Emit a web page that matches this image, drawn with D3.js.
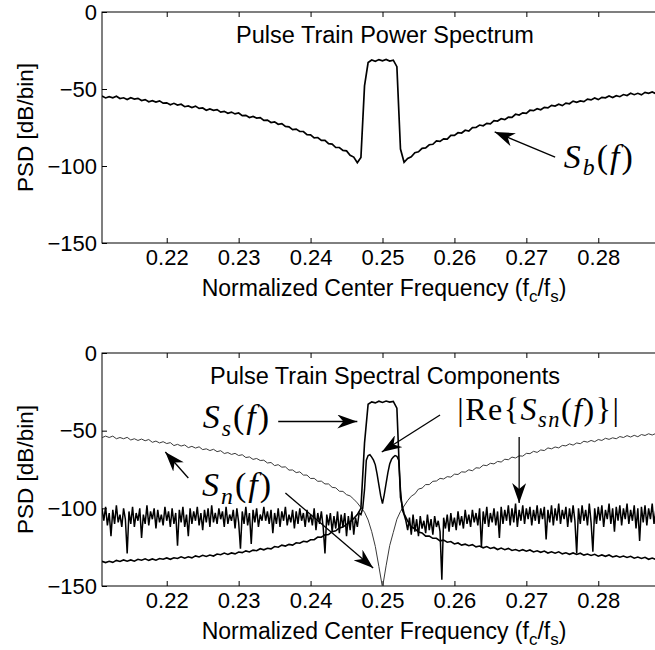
<!DOCTYPE html>
<html>
<head>
<meta charset="utf-8">
<script src="https://cdn.jsdelivr.net/npm/d3@7"></script>
<style>
  body { margin: 0; background: #fff; }
  svg { display: block; font-family: "Liberation Sans", Arial, sans-serif; }
</style>
</head>
<body>
<script>
// axes
const freqDomain = [0.211, 0.289];
const freqTicks = [0.22, 0.23, 0.24, 0.25, 0.26, 0.27, 0.28];
const dbTicks = [-150, -100, -50, 0];

const gridStart = 0.211, gridStep = 0.0005;

// top panel: S_b(f)
const sbPower = [
  -54.6, -55.8, -55.0, -55.7, -54.7, -56.2, -55.7, -56.9, -55.7, -56.6,
  -56.1, -57.5, -56.9, -58.3, -57.6, -58.5, -57.7, -59.2, -59.0, -60.2,
  -59.3, -60.4, -59.9, -61.5, -61.0, -62.0, -61.1, -62.6, -62.3, -63.8,
  -62.9, -63.8, -63.4, -65.0, -64.5, -65.8, -65.0, -66.2, -65.6, -67.3,
  -67.1, -68.5, -67.8, -68.9, -68.6, -70.4, -70.2, -71.8, -71.3, -72.9,
  -72.5, -74.3, -74.6, -76.4, -76.0, -77.5, -77.6, -79.7, -79.8, -81.7,
  -81.5, -83.4, -83.3, -85.5, -85.8, -88.0, -88.0, -89.9, -90.2, -93.0,
  -94.2, -97.8, -94.5, -48.0, -32.8, -31.2, -32.0, -30.9, -31.7, -30.8,
  -31.9, -31.3, -35.5, -89.0, -97.6, -95.1, -94.0, -91.4, -90.8, -88.5,
  -88.2, -86.2, -85.9, -83.7, -84.0, -82.4, -82.5, -80.1, -80.1, -78.4,
  -78.6, -76.8, -77.3, -75.1, -75.0, -73.4, -73.9, -72.3, -72.7, -70.6,
  -70.8, -69.3, -69.9, -68.3, -68.4, -66.4, -66.9, -65.5, -65.8, -63.8,
  -64.1, -62.8, -63.5, -61.9, -62.3, -60.6, -61.1, -59.9, -60.8, -59.2,
  -59.6, -57.9, -58.7, -57.7, -58.2, -56.6, -57.1, -55.8, -56.9, -55.4,
  -55.7, -54.5, -55.5, -54.3, -55.0, -53.6, -54.2, -52.8, -53.7, -52.8,
  -53.8, -52.2, -52.8, -51.9, -53.0, -51.8, -52.4
];

// bottom panel: S_n(f), thin grey curve with the notch
const snNoise = [
  -54.5, -53.5, -54.4, -53.5, -55.2, -54.4, -55.2, -54.3, -56.0, -55.2,
  -56.3, -55.4, -56.5, -55.7, -57.5, -56.7, -57.9, -57.1, -58.3, -57.7,
  -59.6, -58.8, -59.9, -59.2, -60.9, -60.1, -61.2, -60.4, -62.2, -61.7,
  -62.8, -62.0, -63.5, -62.9, -64.7, -64.1, -65.3, -64.6, -66.0, -65.5,
  -67.3, -66.9, -68.5, -67.9, -69.2, -69.0, -70.8, -70.5, -72.5, -71.9,
  -73.5, -73.3, -75.4, -75.3, -77.0, -76.5, -78.6, -78.6, -80.8, -80.7,
  -82.6, -82.5, -84.3, -84.3, -86.5, -86.8, -89.0, -89.1, -91.2, -92.0,
  -94.1, -96.5, -99.5, -102.5, -107.5, -115.0, -124.5, -137.5, -151.0, -137.0,
  -124.0, -115.5, -107.0, -102.0, -98.5, -95.0, -92.2, -90.7, -87.6, -87.0,
  -84.7, -84.7, -82.6, -82.4, -80.7, -81.1, -79.6, -79.9, -78.0, -78.2,
  -76.5, -76.7, -75.2, -75.8, -73.9, -74.1, -72.2, -72.5, -71.0, -71.4,
  -69.8, -70.2, -68.4, -68.7, -67.0, -67.6, -66.2, -66.4, -64.6, -64.8,
  -63.3, -64.0, -62.4, -62.8, -61.1, -61.7, -60.5, -61.1, -59.5, -59.8,
  -58.5, -59.3, -57.9, -58.4, -56.8, -57.4, -56.3, -57.1, -55.7, -56.3,
  -54.9, -55.6, -54.6, -55.2, -53.8, -54.4, -53.2, -54.1, -53.0, -53.9,
  -52.5, -53.1, -52.0, -52.8, -51.8, -52.6, -51.7
];

// bottom panel: S_s(f), bold curve with the flat top
const ssSignal = [
  -134.1, -134.9, -134.1, -134.8, -133.5, -134.2, -133.2, -134.0, -133.2, -134.0,
  -132.8, -133.4, -132.5, -133.5, -132.6, -133.4, -132.3, -132.8, -131.9, -132.8,
  -131.8, -132.3, -131.2, -132.1, -131.2, -131.9, -130.6, -131.3, -130.2, -131.0,
  -130.1, -130.7, -129.4, -129.9, -128.8, -129.7, -128.7, -129.3, -128.1, -128.5,
  -127.4, -128.1, -126.9, -127.3, -126.0, -126.7, -125.7, -126.1, -124.6, -125.0,
  -123.7, -124.3, -123.2, -123.7, -122.2, -122.5, -121.2, -121.6, -120.2, -120.2,
  -118.5, -118.6, -117.1, -116.9, -115.0, -114.5, -112.6, -112.1, -110.3, -108.7,
  -106.5, -104.0, -100.0, -58.0, -33.0, -31.5, -32.1, -31.0, -31.8, -30.9,
  -31.6, -31.2, -35.5, -93.0, -103.5, -108.2, -111.9, -113.1, -115.3, -115.8,
  -117.9, -117.8, -119.3, -119.3, -120.9, -120.5, -121.8, -121.4, -122.9, -122.3,
  -123.7, -123.1, -124.1, -123.4, -124.8, -124.3, -125.4, -124.6, -125.8, -125.2,
  -126.5, -125.6, -126.6, -125.8, -127.1, -126.5, -127.4, -126.6, -127.6, -126.8,
  -128.1, -127.3, -128.3, -127.5, -128.8, -128.0, -128.9, -128.0, -129.3, -128.6,
  -129.6, -128.7, -129.7, -128.9, -130.1, -129.4, -130.3, -129.6, -130.8, -130.0,
  -130.9, -130.0, -131.3, -130.6, -131.5, -130.7, -131.6, -130.9, -132.1, -131.4,
  -132.3, -131.5, -132.8, -132.0, -132.9, -132.1, -133.1
];

// bottom panel: |Re{S_sn(f)}|, sampled every 0.00025 starting at 0.211
const crossStart = 0.211, crossStep = 0.00025;
const reCross = [
  -100, -108, -99, -111, -103, -118, -101, -110, -98, -109, -104, -112,
  -100, -107, -129, -102, -110, -99, -112, -103, -108, -100, -119, -104,
  -110, -98, -111, -102, -107, -100, -113, -101, -109, -104, -111, -99,
  -108, -102, -112, -100, -110, -103, -124, -101, -109, -99, -112, -104,
  -118, -100, -110, -102, -108, -99, -111, -103, -114, -101, -109, -100,
  -112, -98, -109, -103, -110, -100, -107, -102, -112, -99, -110, -104,
  -108, -101, -113, -100, -109, -126, -102, -110, -99, -111, -103, -123,
  -101, -109, -100, -112, -104, -108, -99, -108, -102, -110, -101, -116,
  -103, -110, -100, -112, -102, -108, -99, -111, -104, -109, -101, -113,
  -102, -110, -100, -108, -103, -112, -101, -109, -104, -111, -100, -114,
  -103, -110, -102, -112, -129, -104, -111, -103, -115, -105, -113, -102,
  -116, -104, -112, -103, -118, -105, -114, -102, -117, -106, -112, -103,
  // inside the pulse band
  -104, -100, -88, -69, -66, -65.5, -67, -69, -72, -78, -85, -92, -97,
  -91, -84, -77, -71.5, -68.5, -67, -66, -66.5, -69, -88, -101, -104,
  // right of the pulse band
  -108, -114, -106, -117, -104, -115, -107, -118, -105, -113, -108, -116,
  -104, -114, -107, -117, -105, -112, -108, -115, -146, -106, -113, -104,
  -115, -103, -112, -106, -114, -102, -111, -105, -113, -101, -110, -104,
  -112, -101, -109, -103, -111, -100, -125, -102, -110, -99, -112, -103,
  -109, -100, -111, -102, -119, -99, -110, -101, -108, -98, -111, -100,
  -109, -97, -112, -101, -108, -98, -110, -100, -107, -99, -111, -101,
  -108, -98, -110, -100, -107, -99, -120, -101, -109, -98, -111, -100,
  -108, -97, -110, -101, -107, -99, -112, -100, -109, -98, -108, -129,
  -100, -110, -98, -108, -101, -111, -97, -109, -128, -100, -110, -99,
  -108, -98, -112, -101, -107, -97, -110, -100, -115, -99, -108, -98,
  -111, -100, -107, -97, -110, -101, -108, -98, -113, -100, -121, -99,
  -109, -98, -111, -100, -107, -97, -110, -101, -108, -99, -111, -100
];

const width = 655;
const height = 650;

const svg = d3.select('body')
  .append('svg')
  .attr('width', width)
  .attr('height', height);

// arrow head like the MATLAB annotation arrows
svg.append('defs')
  .append('marker')
  .attr('id', 'head')
  .attr('viewBox', '0 -7 20 14')
  .attr('refX', 20)
  .attr('refY', 0)
  .attr('markerWidth', 20)
  .attr('markerHeight', 14)
  .attr('markerUnits', 'userSpaceOnUse')
  .attr('orient', 'auto')
  .append('path')
  .attr('d', 'M0,-7L20,0L0,7L6,0Z')
  .attr('fill', '#000');

const x = d3.scaleLinear().domain(freqDomain).range([102, 663]);

const toPoints = (vals, start, step) => vals.map((v, i) => [start + i * step, v]);

// one panel: box, ticks, labels, title; returns its y scale and plot group
function panel(id, top, bottom, title) {
  const y = d3.scaleLinear().domain([-150, 0]).range([bottom, top]);
  const g = svg.append('g');

  g.append('clipPath').attr('id', id)
    .append('rect')
    .attr('x', x.range()[0]).attr('y', top)
    .attr('width', x.range()[1] - x.range()[0]).attr('height', bottom - top);

  // bottom axis with inward ticks
  g.append('g')
    .attr('transform', `translate(0,${bottom})`)
    .call(d3.axisBottom(x).tickValues(freqTicks).tickFormat(d3.format('.2f'))
      .tickSize(-5).tickPadding(6))
    .call(a => a.select('.domain').remove());

  // top border ticks
  g.append('g')
    .attr('transform', `translate(0,${top})`)
    .call(d3.axisTop(x).tickValues(freqTicks).tickFormat('').tickSize(-5))
    .call(a => a.select('.domain').remove());

  g.append('g')
    .attr('transform', `translate(${x.range()[0]},0)`)
    .call(d3.axisLeft(y).tickValues(dbTicks).tickSize(-5).tickPadding(5))
    .call(a => a.select('.domain').remove());

  g.selectAll('.tick line').attr('stroke', '#000');
  g.selectAll('.tick text').attr('font-size', 22).attr('fill', '#000')
    .attr('font-family', '"Liberation Sans", Arial, sans-serif');

  g.append('rect')
    .attr('x', x.range()[0]).attr('y', top)
    .attr('width', x.range()[1] - x.range()[0]).attr('height', bottom - top)
    .attr('fill', 'none').attr('stroke', '#000').attr('stroke-width', 1);

  g.append('text')
    .attr('x', 385).attr('y', top + 31)
    .attr('text-anchor', 'middle').attr('font-size', 23.5)
    .text(title);

  g.append('text')
    .attr('transform', `translate(33,${(top + bottom) / 2}) rotate(-90)`)
    .attr('text-anchor', 'middle').attr('font-size', 22.5)
    .text('PSD [dB/bin]');

  const xl = g.append('text')
    .attr('x', 384).attr('y', bottom + 53)
    .attr('text-anchor', 'middle').attr('font-size', 23);
  xl.append('tspan').text('Normalized Center Frequency (f');
  xl.append('tspan').attr('dy', 6).attr('font-size', 17).text('c');
  xl.append('tspan').attr('dy', -6).text('/f');
  xl.append('tspan').attr('dy', 6).attr('font-size', 17).text('s');
  xl.append('tspan').attr('dy', -6).text(')');

  const plot = g.append('g').attr('clip-path', `url(#${id})`);
  return { y, g, plot };
}

// math text: parts of [text, italic, subscript]
function mathText(g, px, py, parts, size, spacing) {
  const t = g.append('text')
    .attr('x', px).attr('y', py)
    .attr('font-family', '"Liberation Serif", "Times New Roman", serif')
    .attr('font-size', size)
    .attr('letter-spacing', spacing);
  let down = false;
  parts.forEach(([s, it, sub]) => {
    const sp = t.append('tspan').text(s)
      .attr('font-style', it ? 'italic' : 'normal');
    if (sub) sp.attr('font-size', size * 0.7);
    if (sub && !down) { sp.attr('dy', size * 0.22); down = true; }
    if (!sub && down) { sp.attr('dy', -size * 0.22); down = false; }
  });
}

function arrow(g, xs, y, f0, d0, f1, d1) {
  g.append('line')
    .attr('x1', xs(f0)).attr('y1', y(d0))
    .attr('x2', xs(f1)).attr('y2', y(d1))
    .attr('stroke', '#000').attr('stroke-width', 1.3)
    .attr('marker-end', 'url(#head)');
}

// top panel
const topP = panel('clipTop', 12, 243, 'Pulse Train Power Spectrum');
const lineTop = d3.line().x(d => x(d[0])).y(d => topP.y(d[1]));

topP.plot.append('path')
  .datum(toPoints(sbPower, gridStart, gridStep))
  .attr('d', lineTop)
  .attr('fill', 'none').attr('stroke', '#000').attr('stroke-width', 1.7);

arrow(topP.g, x, topP.y, 0.2740, -94.2, 0.2656, -77.9);
mathText(topP.g, x(0.2752), topP.y(-101.3), [['S', true], ['b', true, true], ['(', false], ['f', true], [')', false]], 34, 2);

// bottom panel
const botP = panel('clipBot', 353, 586, 'Pulse Train Spectral Components');
const lineBot = d3.line().x(d => x(d[0])).y(d => botP.y(d[1]));

botP.plot.append('path')
  .datum(toPoints(snNoise, gridStart, gridStep))
  .attr('d', lineBot)
  .attr('fill', 'none').attr('stroke', '#3a3a3a').attr('stroke-width', 1);

botP.plot.append('path')
  .datum(toPoints(reCross, crossStart, crossStep))
  .attr('d', lineBot)
  .attr('fill', 'none').attr('stroke', '#000').attr('stroke-width', 1.5);

botP.plot.append('path')
  .datum(toPoints(ssSignal, gridStart, gridStep))
  .attr('d', lineBot)
  .attr('fill', 'none').attr('stroke', '#000').attr('stroke-width', 1.6);

mathText(botP.g, x(0.2250), botP.y(-48.3), [['S', true], ['s', true, true], ['(', false], ['f', true], [')', false]], 34, 2);
arrow(botP.g, x, botP.y, 0.2355, -44.1, 0.2465, -44.1);

mathText(botP.g, x(0.2249), botP.y(-92.1), [['S', true], ['n', true, true], ['(', false], ['f', true], [')', false]], 34, 2);
arrow(botP.g, x, botP.y, 0.2230, -80.5, 0.2198, -63.7);
arrow(botP.g, x, botP.y, 0.2365, -90.1, 0.2487, -138.4);

mathText(botP.g, x(0.2604), botP.y(-43.1),
  [['|Re{', false], ['S', true], ['sn', true, true], ['(', false], ['f', true], [')}|', false]], 32, 1.5);
arrow(botP.g, x, botP.y, 0.2580, -39.9, 0.2499, -63.7);
arrow(botP.g, x, botP.y, 0.2690, -54.1, 0.2690, -96.6);
</script>
</body>
</html>
